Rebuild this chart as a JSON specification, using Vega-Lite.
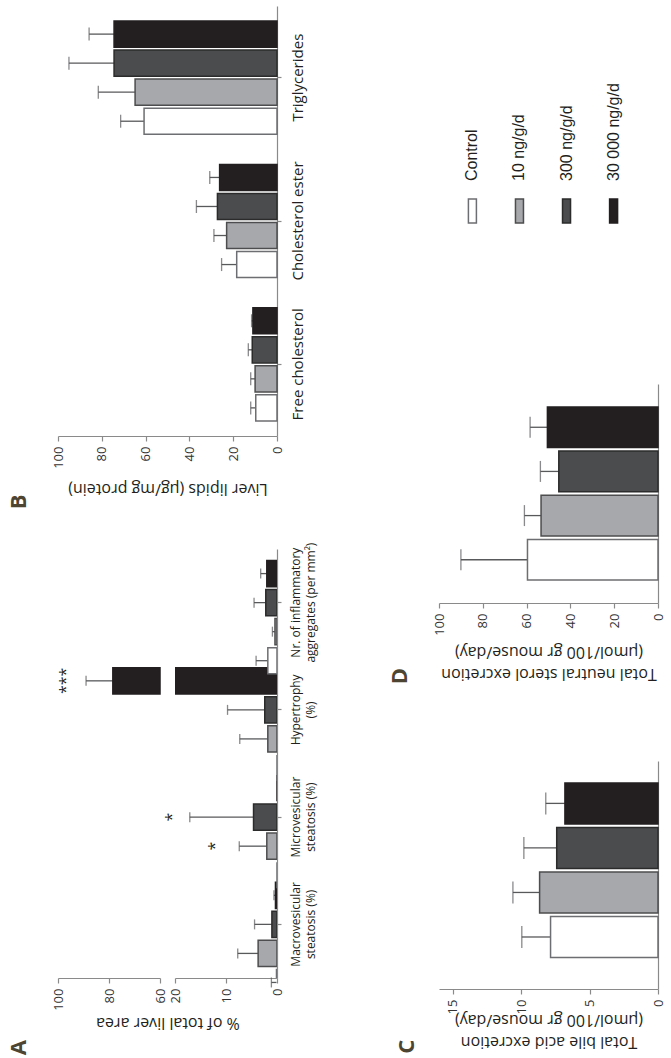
{
  "$schema": "https://vega.github.io/schema/vega-lite/v6.json",
  "padding": {"left": 8, "top": 6, "right": 0, "bottom": 0},
  "background": "white",
  "config": {
    "view": {"stroke": null},
    "font": "Open Sans",
    "axis": {"grid": false, "domainColor": "#8a8a8a", "domainWidth": 1.2, "tickColor": "#8a8a8a", "tickWidth": 1.2, "labelColor": "#333333", "titleColor": "#231f20", "labelFont": "Open Sans", "titleFont": "Open Sans", "titleFontWeight": "normal", "labelLimit": 0},
    "axisX": {"labelAngle": 270, "labelFontSize": 13, "tickSize": 5, "labelPadding": 5, "titleAngle": 180, "titleFontSize": 16, "titlePadding": 12, "titleBaseline": "bottom", "titleLineHeight": 22},
    "axisY": {"labelAngle": 270, "labelAlign": "center", "labelBaseline": "top", "tickSize": 4, "labelPadding": 9, "labelColor": "#231f20"},
    "title": {"orient": "bottom", "anchor": "start", "angle": 270, "fontSize": 22, "fontWeight": "bold", "color": "#4d4532", "font": "Open Sans", "align": "center", "baseline": "middle", "offset": 4}
  },
  "datasets": {
    "lipids": [
      {"measure": "Free cholesterol", "group": "Control", "mean": 9.7, "upper": 12.0},
      {"measure": "Free cholesterol", "group": "10 ng/g/d", "mean": 10.0, "upper": 12.0},
      {"measure": "Free cholesterol", "group": "300 ng/g/d", "mean": 11.3, "upper": 13.1},
      {"measure": "Free cholesterol", "group": "30 000 ng/g/d", "mean": 11.0, "upper": 11.6},
      {"measure": "Cholesterol ester", "group": "Control", "mean": 18.4, "upper": 25.3},
      {"measure": "Cholesterol ester", "group": "10 ng/g/d", "mean": 23.0, "upper": 28.8},
      {"measure": "Cholesterol ester", "group": "300 ng/g/d", "mean": 27.2, "upper": 36.8},
      {"measure": "Cholesterol ester", "group": "30 000 ng/g/d", "mean": 26.2, "upper": 30.7},
      {"measure": "Triglycerides", "group": "Control", "mean": 60.7, "upper": 71.4},
      {"measure": "Triglycerides", "group": "10 ng/g/d", "mean": 64.8, "upper": 81.6},
      {"measure": "Triglycerides", "group": "300 ng/g/d", "mean": 74.4, "upper": 95.0},
      {"measure": "Triglycerides", "group": "30 000 ng/g/d", "mean": 74.4, "upper": 85.8}
    ],
    "liver": [
      {"measure": "Macrovesicular|steatosis (%)", "group": "Control", "mean": 0.1, "upper": 1.1},
      {"measure": "Macrovesicular|steatosis (%)", "group": "10 ng/g/d", "mean": 3.7, "upper": 7.7},
      {"measure": "Macrovesicular|steatosis (%)", "group": "300 ng/g/d", "mean": 1.0, "upper": 4.4},
      {"measure": "Macrovesicular|steatosis (%)", "group": "30 000 ng/g/d", "mean": 0.3, "upper": 0.6},
      {"measure": "Microvesicular|steatosis (%)", "group": "Control", "mean": 0, "upper": 0},
      {"measure": "Microvesicular|steatosis (%)", "group": "10 ng/g/d", "mean": 2.0, "upper": 7.4},
      {"measure": "Microvesicular|steatosis (%)", "group": "300 ng/g/d", "mean": 4.6, "upper": 17.1},
      {"measure": "Microvesicular|steatosis (%)", "group": "30 000 ng/g/d", "mean": 0, "upper": 0},
      {"measure": "Hypertrophy|(%)", "group": "Control", "mean": 0, "upper": 0},
      {"measure": "Hypertrophy|(%)", "group": "10 ng/g/d", "mean": 1.8, "upper": 7.3},
      {"measure": "Hypertrophy|(%)", "group": "300 ng/g/d", "mean": 2.4, "upper": 9.7},
      {"measure": "Hypertrophy|(%)", "group": "30 000 ng/g/d", "mean": 78.5, "upper": 89.0},
      {"measure": "Nr. of inflammatory|aggregates (per mm²)", "group": "Control", "mean": 1.8, "upper": 4.1},
      {"measure": "Nr. of inflammatory|aggregates (per mm²)", "group": "10 ng/g/d", "mean": 0.4, "upper": 0.9},
      {"measure": "Nr. of inflammatory|aggregates (per mm²)", "group": "300 ng/g/d", "mean": 2.2, "upper": 4.5},
      {"measure": "Nr. of inflammatory|aggregates (per mm²)", "group": "30 000 ng/g/d", "mean": 2.0, "upper": 3.2}
    ],
    "stars": [
      {"measure": "Microvesicular|steatosis (%)", "group": "10 ng/g/d", "pos": 12.2, "text": "*"},
      {"measure": "Microvesicular|steatosis (%)", "group": "300 ng/g/d", "pos": 20.6, "text": "*"},
      {"measure": "Hypertrophy|(%)", "group": "30 000 ng/g/d", "pos": 96.9, "text": "***"}
    ],
    "bile": [
      {"group": "Control", "mean": 7.85, "upper": 9.95},
      {"group": "10 ng/g/d", "mean": 8.65, "upper": 10.6},
      {"group": "300 ng/g/d", "mean": 7.4, "upper": 9.8},
      {"group": "30 000 ng/g/d", "mean": 6.8, "upper": 8.2}
    ],
    "sterol": [
      {"group": "Control", "mean": 59.6, "upper": 90.0},
      {"group": "10 ng/g/d", "mean": 53.4, "upper": 61.0},
      {"group": "300 ng/g/d", "mean": 45.3, "upper": 53.7},
      {"group": "30 000 ng/g/d", "mean": 50.5, "upper": 58.4}
    ],
    "groups": [
      {"group": "Control"},
      {"group": "10 ng/g/d"},
      {"group": "300 ng/g/d"},
      {"group": "30 000 ng/g/d"}
    ]
  },
  "bounds": "full",
  "spacing": 72,
  "hconcat": [
    {
      "bounds": "flush",
      "spacing": 113,
      "vconcat": [
        {
          "width": 219,
          "height": 430,
          "data": {"name": "lipids"},
          "title": {"text": "B", "dx": -9, "dy": -43},
          "encoding": {
            "y": {"field": "measure", "type": "nominal", "scale": {"domain": ["Triglycerides", "Cholesterol ester", "Free cholesterol"], "paddingInner": 0.21, "paddingOuter": 0.105}, "axis": {"orient": "right", "title": null, "labelFontSize": 15}},
            "yOffset": {"field": "group", "type": "nominal", "scale": {"domain": ["30 000 ng/g/d", "300 ng/g/d", "10 ng/g/d", "Control"], "paddingInner": 0.1}}
          },
          "layer": [
            {"mark": {"type": "rule", "color": "#58595b", "strokeWidth": 1.3}, "encoding": {"x": {"field": "mean", "type": "quantitative", "scale": {"domain": [0, 100], "reverse": true}, "axis": {"orient": "bottom", "values": [0, 20, 40, 60, 80, 100], "title": "Liver lipids (µg/mg protein)"}}, "x2": {"field": "upper"}}},
            {"mark": {"type": "tick", "color": "#58595b", "thickness": 1.3, "size": 13}, "encoding": {"x": {"field": "upper", "type": "quantitative"}}},
            {"mark": {"type": "bar", "strokeWidth": 1.5}, "encoding": {"x": {"field": "mean", "type": "quantitative"},
              "fill": {"field": "group", "type": "nominal", "scale": {"domain": ["Control", "10 ng/g/d", "300 ng/g/d", "30 000 ng/g/d"], "range": ["#ffffff", "#a6a8ab", "#4b4c4e", "#231f20"]}, "legend": null},
              "stroke": {"field": "group", "type": "nominal", "scale": {"domain": ["Control", "10 ng/g/d", "300 ng/g/d", "30 000 ng/g/d"], "range": ["#6d6e71", "#4d4d4f", "#2b2b2b", "#231f20"]}, "legend": null}}}
          ]
        },
        {
          "bounds": "flush",
          "spacing": 15,
          "hconcat": [
            {
              "width": 102,
              "height": 429,
              "data": {"name": "liver"},
              "title": {"text": "A", "dx": -41, "dy": -43},
              "encoding": {
                "y": {"field": "measure", "type": "nominal", "scale": {"domain": ["Nr. of inflammatory|aggregates (per mm²)", "Hypertrophy|(%)", "Microvesicular|steatosis (%)", "Macrovesicular|steatosis (%)"], "paddingInner": 0.215, "paddingOuter": 0.1075}, "axis": null},
                "yOffset": {"field": "group", "type": "nominal", "scale": {"domain": ["30 000 ng/g/d", "300 ng/g/d", "10 ng/g/d", "Control"], "paddingInner": 0.1}}
              },
              "layer": [
                {"transform": [{"filter": "datum.upper > 60"}], "mark": {"type": "rule", "color": "#58595b", "strokeWidth": 1.3}, "encoding": {"x": {"field": "mean", "type": "quantitative", "scale": {"domain": [60, 100], "reverse": true}, "axis": {"orient": "bottom", "values": [60, 80, 100], "title": null}}, "x2": {"field": "upper"}}},
                {"transform": [{"filter": "datum.upper > 60"}], "mark": {"type": "tick", "color": "#58595b", "thickness": 1.3, "size": 10}, "encoding": {"x": {"field": "upper", "type": "quantitative"}}},
                {"transform": [{"filter": "datum.mean > 60"}], "mark": {"type": "bar", "strokeWidth": 1.5}, "encoding": {"x": {"field": "mean", "type": "quantitative"}, "x2": {"datum": 60},
                  "fill": {"field": "group", "type": "nominal", "scale": {"domain": ["Control", "10 ng/g/d", "300 ng/g/d", "30 000 ng/g/d"], "range": ["#ffffff", "#a6a8ab", "#4b4c4e", "#231f20"]}, "legend": null},
                  "stroke": {"field": "group", "type": "nominal", "scale": {"domain": ["Control", "10 ng/g/d", "300 ng/g/d", "30 000 ng/g/d"], "range": ["#6d6e71", "#4d4d4f", "#2b2b2b", "#231f20"]}, "legend": null}}},
                {"data": {"name": "stars"}, "transform": [{"filter": "datum.pos > 60"}], "mark": {"type": "text", "angle": 270, "fontSize": 16, "align": "center", "baseline": "middle", "color": "#231f20"}, "encoding": {"x": {"field": "pos", "type": "quantitative"}, "text": {"field": "text"}}}
              ]
            },
            {
              "width": 102,
              "height": 429,
              "data": {"name": "liver"},
              "encoding": {
                "y": {"field": "measure", "type": "nominal", "scale": {"domain": ["Nr. of inflammatory|aggregates (per mm²)", "Hypertrophy|(%)", "Microvesicular|steatosis (%)", "Macrovesicular|steatosis (%)"], "paddingInner": 0.215, "paddingOuter": 0.1075}, "axis": {"orient": "right", "title": null, "labelFontSize": 12, "labelLineHeight": 15, "labelExpr": "split(datum.label, '|')"}},
                "yOffset": {"field": "group", "type": "nominal", "scale": {"domain": ["30 000 ng/g/d", "300 ng/g/d", "10 ng/g/d", "Control"], "paddingInner": 0.1}}
              },
              "layer": [
                {"transform": [{"filter": "datum.upper > datum.mean && datum.mean < 20"}], "mark": {"type": "rule", "color": "#58595b", "strokeWidth": 1.3}, "encoding": {"x": {"field": "mean", "type": "quantitative", "scale": {"domain": [0, 20], "reverse": true}, "axis": {"orient": "bottom", "values": [0, 10, 20], "title": "% of total liver area", "titleX": -7.5}}, "x2": {"field": "upper"}}},
                {"transform": [{"filter": "datum.upper > datum.mean && datum.mean < 20"}], "mark": {"type": "tick", "color": "#58595b", "thickness": 1.3, "size": 10}, "encoding": {"x": {"field": "upper", "type": "quantitative"}}},
                {"mark": {"type": "bar", "strokeWidth": 1.5, "clip": true}, "encoding": {"x": {"field": "mean", "type": "quantitative"},
                  "fill": {"field": "group", "type": "nominal", "scale": {"domain": ["Control", "10 ng/g/d", "300 ng/g/d", "30 000 ng/g/d"], "range": ["#ffffff", "#a6a8ab", "#4b4c4e", "#231f20"]}, "legend": null},
                  "stroke": {"field": "group", "type": "nominal", "scale": {"domain": ["Control", "10 ng/g/d", "300 ng/g/d", "30 000 ng/g/d"], "range": ["#6d6e71", "#4d4d4f", "#2b2b2b", "#231f20"]}, "legend": null}}},
                {"data": {"name": "stars"}, "transform": [{"filter": "datum.pos < 30"}], "mark": {"type": "text", "angle": 270, "fontSize": 16, "align": "center", "baseline": "middle", "color": "#231f20"}, "encoding": {"x": {"field": "pos", "type": "quantitative"}, "text": {"field": "text"}}}
              ]
            }
          ]
        }
      ]
    },
    {
      "bounds": "flush",
      "spacing": 158,
      "vconcat": [
        {
          "width": 208,
          "height": 220,
          "data": {"name": "groups"},
          "encoding": {
            "x": {"field": "group", "type": "nominal", "scale": {"domain": ["Control", "10 ng/g/d", "300 ng/g/d", "30 000 ng/g/d"], "paddingInner": 0, "paddingOuter": 0.21}, "axis": null}
          },
          "layer": [
            {"mark": {"type": "bar", "width": 8, "strokeWidth": 1.5}, "encoding": {
              "y": {"datum": 3, "type": "quantitative", "scale": {"domain": [0, 220]}, "axis": null},
              "y2": {"datum": 27},
              "fill": {"field": "group", "type": "nominal", "scale": {"domain": ["Control", "10 ng/g/d", "300 ng/g/d", "30 000 ng/g/d"], "range": ["#ffffff", "#a6a8ab", "#4b4c4e", "#231f20"]}, "legend": null},
              "stroke": {"field": "group", "type": "nominal", "scale": {"domain": ["Control", "10 ng/g/d", "300 ng/g/d", "30 000 ng/g/d"], "range": ["#6d6e71", "#4d4d4f", "#2b2b2b", "#231f20"]}, "legend": null}}},
            {"mark": {"type": "text", "angle": 270, "align": "left", "baseline": "middle", "font": "Liberation Sans", "fontSize": 16, "color": "#231f20"}, "encoding": {
              "y": {"datum": 45, "type": "quantitative"},
              "text": {"field": "group"}}}
          ]
        },
        {
          "width": 219,
          "height": 219,
          "data": {"name": "sterol"},
          "title": {"text": "D", "dx": 1, "dy": -43.5},
          "encoding": {
            "y": {"field": "group", "type": "nominal", "scale": {"domain": ["30 000 ng/g/d", "300 ng/g/d", "10 ng/g/d", "Control"], "paddingInner": 0.08, "paddingOuter": 0.52}, "axis": {"orient": "right", "title": null, "labels": false, "ticks": false}}
          },
          "layer": [
            {"mark": {"type": "rule", "color": "#58595b", "strokeWidth": 1.3}, "encoding": {"x": {"field": "mean", "type": "quantitative", "scale": {"domain": [0, 100], "reverse": true}, "axis": {"orient": "bottom", "values": [0, 20, 40, 60, 80, 100], "titlePadding": 30, "title": ["Total neutral sterol excretion", "(µmol/100 gr mouse/day)"]}}, "x2": {"field": "upper"}}},
            {"mark": {"type": "tick", "color": "#58595b", "thickness": 1.3, "size": 21}, "encoding": {"x": {"field": "upper", "type": "quantitative"}}},
            {"mark": {"type": "bar", "strokeWidth": 1.5}, "encoding": {"x": {"field": "mean", "type": "quantitative"},
              "fill": {"field": "group", "type": "nominal", "scale": {"domain": ["Control", "10 ng/g/d", "300 ng/g/d", "30 000 ng/g/d"], "range": ["#ffffff", "#a6a8ab", "#4b4c4e", "#231f20"]}, "legend": null},
              "stroke": {"field": "group", "type": "nominal", "scale": {"domain": ["Control", "10 ng/g/d", "300 ng/g/d", "30 000 ng/g/d"], "range": ["#6d6e71", "#4d4d4f", "#2b2b2b", "#231f20"]}, "legend": null}}}
          ]
        },
        {
          "width": 219,
          "height": 228,
          "data": {"name": "bile"},
          "title": {"text": "C", "dx": 0, "dy": -42.5},
          "encoding": {
            "y": {"field": "group", "type": "nominal", "scale": {"domain": ["30 000 ng/g/d", "300 ng/g/d", "10 ng/g/d", "Control"], "paddingInner": 0.08, "paddingOuter": 0.6, "align": 0.41}, "axis": {"orient": "right", "title": null, "labels": false, "ticks": false}}
          },
          "layer": [
            {"mark": {"type": "rule", "color": "#58595b", "strokeWidth": 1.3}, "encoding": {"x": {"field": "mean", "type": "quantitative", "scale": {"domain": [0, 15], "reverse": true}, "axis": {"orient": "bottom", "values": [0, 5, 10, 15], "titlePadding": 20, "title": ["Total bile acid excretion", "(µmol/100 gr mouse/day)"]}}, "x2": {"field": "upper"}}},
            {"mark": {"type": "tick", "color": "#58595b", "thickness": 1.3, "size": 22}, "encoding": {"x": {"field": "upper", "type": "quantitative"}}},
            {"mark": {"type": "bar", "strokeWidth": 1.5}, "encoding": {"x": {"field": "mean", "type": "quantitative"},
              "fill": {"field": "group", "type": "nominal", "scale": {"domain": ["Control", "10 ng/g/d", "300 ng/g/d", "30 000 ng/g/d"], "range": ["#ffffff", "#a6a8ab", "#4b4c4e", "#231f20"]}, "legend": null},
              "stroke": {"field": "group", "type": "nominal", "scale": {"domain": ["Control", "10 ng/g/d", "300 ng/g/d", "30 000 ng/g/d"], "range": ["#6d6e71", "#4d4d4f", "#2b2b2b", "#231f20"]}, "legend": null}}}
          ]
        }
      ]
    }
  ]
}
